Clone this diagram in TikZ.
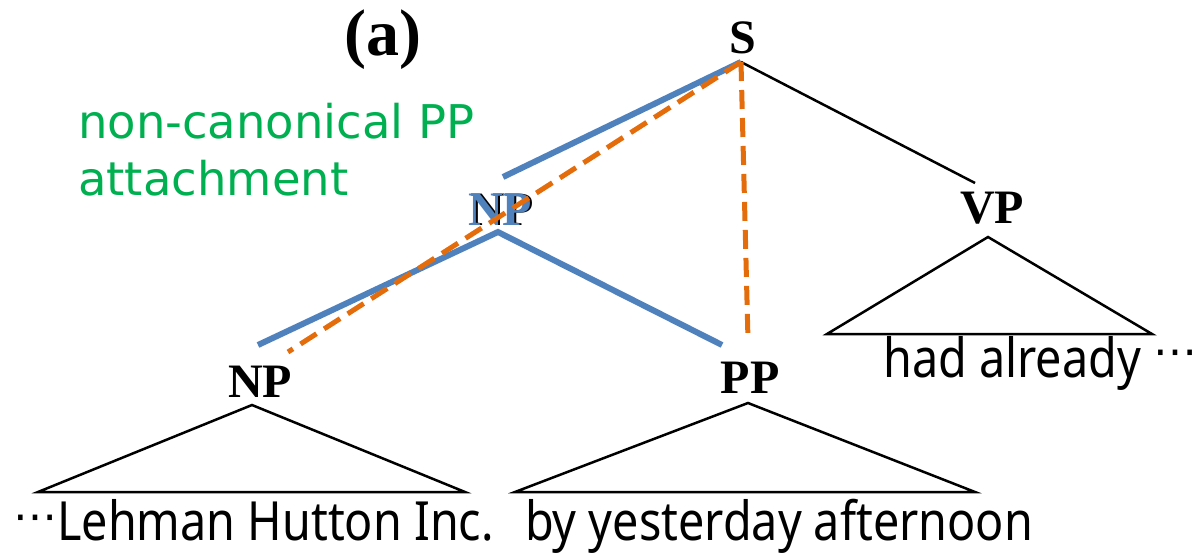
\documentclass[tikz,border=0pt]{standalone}
\usepackage{fontspec}
\setmainfont{Liberation Serif}
\newfontfamily\wordfont[FakeStretch=0.865]{Noto Sans}
\newfontfamily\symfont{DejaVu Sans}
\newfontfamily\greenfont{DejaVu Sans}
\definecolor{myblue}{HTML}{4F81BD}
\definecolor{myorange}{HTML}{E46C0A}
\definecolor{mygreen}{HTML}{00B050}
\newcommand{\mydots}[1]{\raisebox{#1}{\symfont\fontsize{44}{44}\selectfont ⋯}}
\tikzset{
  cat/.style={font=\bfseries\fontsize{48}{48}\selectfont, inner sep=0pt, anchor=base},
  tri/.style={draw=black, line width=2.5pt, line join=miter},
  blueline/.style={draw=myblue, line width=6pt},
  orangedash/.style={draw=myorange, line width=5pt, dash pattern=on 19pt off 9pt},
  words/.style={font=\wordfont\fontsize{54}{54}\selectfont, inner sep=0pt, anchor=base west},
  note/.style={font=\greenfont\fontsize{46.5}{46.5}\selectfont, text=mygreen, inner sep=0pt, anchor=base west}
}
\begin{document}
\begin{tikzpicture}[x=1pt,y=-1pt]
\useasboundingbox (0,0) rectangle (1195,554);
% labels
\node[font=\bfseries\fontsize{66}{66}\selectfont, inner sep=0pt, anchor=base] (lab) at (383,55) {(a)};
\node[note] (n1) at (78,138) {non-canonical PP};
\node[note] (n2) at (78,195) {attachment};
\node[cat] (S) at (743,53) {S};
\node[cat] (NPmk) at (502,225) {NP};
\node[cat, text=myblue] (NPm) at (500,225) {NP};
\node[cat] (VP) at (992,223) {VP};
\node[cat] (NPl) at (260,397) {NP};
\node[cat] (PP) at (750,393) {PP};
% words
\node[words] (w1) at (13,540) {\mydots{9pt}Lehman Hutton Inc.};
\node[words] (w2) at (525,540) {by yesterday afternoon};
\node[words] (w3) at (883,377) {had already \mydots{11pt}};
% coordinates
\coordinate (root) at (741,62);
\coordinate (vpTop) at (975,183);
\coordinate (npmTop) at (498,232);
\coordinate (npmUp) at (503,177);
\coordinate (nplEnd) at (258,345);
\coordinate (ppEnd) at (722,345);
\coordinate (orLeft) at (288,352);
\coordinate (orDown) at (748,340);
% triangles
\coordinate (vpA) at (988,237); \coordinate (vpL) at (827,334); \coordinate (vpR) at (1152,334);
\coordinate (nplA) at (252,405); \coordinate (nplL) at (38,492); \coordinate (nplR) at (465,492);
\coordinate (ppA) at (748,403); \coordinate (ppL) at (515,492); \coordinate (ppR) at (975,492);
\draw[tri] (vpA) -- (vpL) -- (vpR) -- cycle;
\draw[tri] (nplA) -- (nplL) -- (nplR) -- cycle;
\draw[tri] (ppA) -- (ppL) -- (ppR) -- cycle;
% tree edges
\draw[tri] (root) -- (vpTop);
\draw[blueline] (npmUp) -- (root);
\draw[blueline] (nplEnd) -- (npmTop) -- (ppEnd);
\draw[orangedash] (root) -- (orLeft);
\draw[orangedash] (root) -- (orDown);
\end{tikzpicture}
\end{document}
